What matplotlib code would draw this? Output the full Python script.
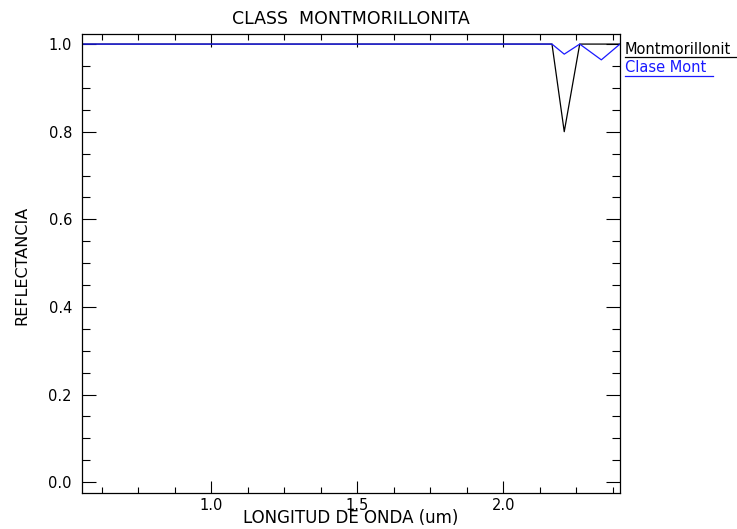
import numpy as np
import matplotlib
matplotlib.use("AGG")
import matplotlib.pyplot as plt
from matplotlib.lines import Line2D
from matplotlib.ticker import MultipleLocator

# ASTER band centres (um) and the two spectra
wavelength = [0.556, 0.661, 0.807, 1.656, 2.167, 2.209, 2.262, 2.336, 2.400]
montmorillonit = [1.0, 1.0, 1.0, 1.0, 1.0, 0.80, 1.0, 1.0, 1.0]
clase_mont = [1.0, 1.0, 1.0, 1.0, 1.0, 0.977, 1.0, 0.964, 1.0]

W, H = 737, 529
fig = plt.figure(figsize=[W / 100, H / 100], dpi=100)
ax = fig.add_axes([81.7 / W, 1 - 492.7 / H, (620 - 81.7) / W, (492.7 - 34) / H])

ax.plot(wavelength, montmorillonit, c='k', lw=0.9)
ax.plot(wavelength, clase_mont, c='#1a1aff', lw=0.9)

ax.set_xlim(0.556, 2.400)
ax.set_ylim(-0.024, 1.023)
ax.xaxis.set_major_locator(MultipleLocator(0.5))
ax.xaxis.set_minor_locator(MultipleLocator(0.125))
ax.yaxis.set_major_locator(MultipleLocator(0.2))
ax.yaxis.set_minor_locator(MultipleLocator(0.05))
ax.xaxis.set_major_formatter(lambda v, p: "{:.1f}".format(v))
ax.yaxis.set_major_formatter(lambda v, p: "{:.1f}".format(v))
ax.tick_params(which='both', direction='in', top=True, right=True, width=0.8,
               labelsize=10.5, colors='k')
ax.tick_params(axis='x', which='major', length=9, pad=4)
ax.tick_params(axis='x', which='minor', length=4)
ax.tick_params(axis='y', which='major', length=10, pad=7)
ax.tick_params(axis='y', which='minor', length=6)
for s in ax.spines.values():
    s.set_linewidth(0.9)

fig.text(351 / W, 1 - 19 / H, "CLASS  MONTMORILLONITA", ha='center', va='center', fontsize=12.5)
fig.text(351 / W, 1 - 518 / H, "LONGITUD DE ONDA (um)", ha='center', va='center', fontsize=12)
fig.text(22 / W, 1 - 265 / H, "REFLECTANCIA", ha='center', va='center', rotation=90, fontsize=11.5)

# legend labels at the right, underlined
fig.text(625 / W, 1 - 53.5 / H, "Montmorillonit", ha='left', va='baseline', fontsize=10.5, color='k')
fig.add_artist(Line2D([625 / W, 737 / W], [1 - 56.5 / H, 1 - 56.5 / H], c='k', lw=0.9))
fig.text(625 / W, 1 - 72 / H, "Clase Mont", ha='left', va='baseline', fontsize=10.5, color='#1a1aff')
fig.add_artist(Line2D([625 / W, 713 / W], [1 - 75.5 / H, 1 - 75.5 / H], c='#1a1aff', lw=0.9))

plt.savefig("out.png", dpi=100)
